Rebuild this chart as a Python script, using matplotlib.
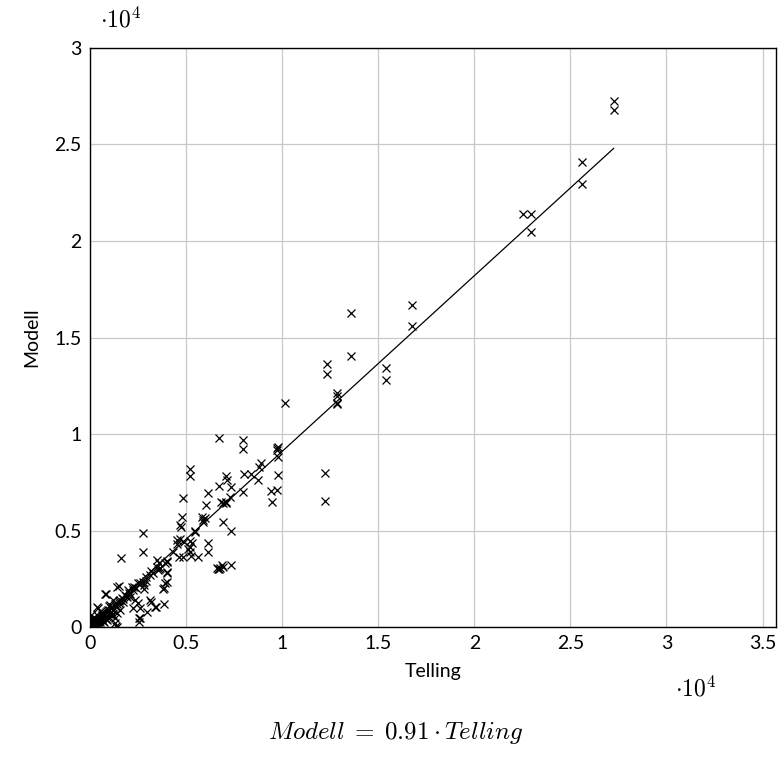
import matplotlib.pyplot as plt
from matplotlib.ticker import FuncFormatter

# Telling (x) and Modell (y)
telling = [27250, 27250, 25580, 25580, 22520, 22930, 22930,
           16740, 16740, 13570, 13570, 12320, 12320, 15390, 15390,
           12840, 12840, 12840, 12840, 10140, 12220, 12220,
           9780, 9720, 9720, 9780, 8890, 8790, 9780, 8370, 8010, 8740, 7960, 9410, 9720, 9460,
           6710, 7960, 7960, 5200, 5200, 7070, 7120, 6710, 7330, 7280, 6810, 7070, 6140, 6030,
           4840, 4780, 4730, 4680,
           5820, 5880, 5980, 6920, 7330, 5460,
           4520, 4520, 5200, 5300, 5100, 4840, 5200, 5250, 5620, 6140, 6140, 4630,
           6760, 6600, 6860, 7330, 6700, 6650, 6900,
           2760, 2760, 1610,
           4000, 3900, 3480, 3590, 3540, 4000, 3900, 4000, 3800, 3850, 3850, 3380, 3170,
           2810, 2810, 2760, 2180, 2240, 1510, 780, 2080, 2340, 2500, 2600, 2240, 2960,
           3120, 3430, 2550, 2550, 1350, 1510, 1720, 1920, 2030, 1200, 1040, 1200, 1400,
           1560, 1150, 420, 620, 160, 780, 1350, 1300, 1080,
           3640, 4000, 4000, 4680, 4880, 5200, 5460, 5880, 6920, 7070, 3600, 4300, 3200,
           2900, 2500, 2300, 1800, 1650, 1500, 1300, 1100, 950, 850, 700, 600, 500, 400,
           300, 200, 100,
           50, 100, 150, 20, 30, 80, 250, 300, 200, 120, 60, 400, 350, 450, 500, 550, 600,
           650, 700, 750, 800, 900, 1000, 0, 10, 40, 70, 150, 180, 220, 280, 320, 380, 420,
           480, 520, 600, 650, 700, 750, 820, 880, 950, 1000, 1100, 1200, 900, 1300, 180,
           250, 350, 50, 100, 1400, 1200, 1000, 1550, 1700, 1850, 2000, 2100, 2400, 2600,
           2900, 3100, 3300, 3500,
           1400, 830, 2600, 1400, 360]
modell = [27250, 26790, 24090, 22950, 21400, 21400, 20470,
          16680, 15600, 16270, 14040, 13630, 13110, 13420, 12800,
          12120, 11970, 11610, 11550, 11610, 7980, 6530,
          9330, 9270, 9170, 8810, 8500, 8290, 7880, 7930, 7930, 7620, 7000, 7050, 7100, 6480,
          9790, 9690, 9220, 8190, 7820, 7820, 7620, 7310, 7250, 6740, 6480, 6420, 6940, 6320,
          6680, 5700, 5180, 5280,
          5700, 5440, 5650, 5440, 4970, 4970,
          4510, 4300, 4460, 4350, 4040, 3630, 3890, 3680, 3630, 4350, 3890, 3630,
          3060, 3060, 3210, 3210, 3000, 2990, 3100,
          4870, 3890, 3570,
          2800, 3320, 3460, 3000, 2950, 2850, 2280, 2330, 1970, 2000, 1190, 1040, 1300,
          1970, 2180, 2330, 2070, 1920, 2120, 1710, 1550, 1400, 1240, 980, 980, 780,
          1400, 1040, 470, 260, 1040, 1240, 1450, 1550, 1760, 1400, 1140, 880, 730,
          880, 620, 980, 730, 470, 470, 50, 210, 620,
          3060, 3370, 3420, 4560, 4400, 4150, 4920, 5540, 6420, 6480, 3300, 3900, 2900,
          2600, 2300, 2100, 1650, 1500, 1350, 1200, 1000, 860, 780, 650, 550, 450, 380,
          280, 180, 90,
          50, 30, 120, 10, 200, 150, 150, 100, 60, 220, 300, 250, 300, 350, 420, 500, 480,
          600, 640, 700, 720, 820, 900, 0, 40, 20, 80, 50, 20, 280, 240, 150, 120, 200,
          300, 250, 350, 400, 300, 250, 400, 350, 550, 700, 800, 600, 500, 450, 350,
          450, 600, 600, 400, 1200, 1050, 1100, 1400, 1300, 1600, 1900, 1700, 2000, 2300,
          2400, 2700, 2800, 3100,
          2070, 1710, 470, 0, 1040]

slope = 0.91
fit_x = [0, 27250]

plt.rcParams['mathtext.fontset'] = 'cm'

fig = plt.figure(figsize=(7.82, 7.63), dpi=100)
ax = fig.add_axes([0.1151, 0.1782, 0.8772, 0.7589])

ax.plot(telling, modell, 'x', color='black', markersize=5.5, markeredgewidth=0.9)
ax.plot(fit_x, [slope * v for v in fit_x], color='black', linewidth=0.9)

ax.set_xlim(0, 35700)
ax.set_ylim(0, 30000)
ax.set_xticks([i * 5000 for i in range(8)])
ax.set_yticks([i * 5000 for i in range(7)])
fmt = FuncFormatter(lambda v, p: '0' if v == 0 else ('%g' % (v / 1e4)))
ax.xaxis.set_major_formatter(fmt)
ax.yaxis.set_major_formatter(fmt)
ax.grid(True, color='#c8c8c8', linewidth=0.9)
ax.set_axisbelow(True)
ax.tick_params(direction='in', length=0, labelsize=14, pad=6)
for lab in ax.get_xticklabels() + ax.get_yticklabels():
    lab.set_family('Lato')
for s in ax.spines.values():
    s.set_linewidth(1.0)

ax.set_xlabel('Telling', fontsize=14, family='Lato', labelpad=8)
ax.set_ylabel('Modell', fontsize=14, family='Lato', labelpad=10)

fig.text(121 / 782, 1 - 20 / 763, r'$\cdot 10^4$', fontsize=17, ha='center', va='center')
fig.text(696 / 782, 1 - 689 / 763, r'$\cdot 10^4$', fontsize=17, ha='center', va='center')
fig.text(396 / 782, 1 - 733 / 763, r'$Modell\;=\;0.91 \cdot Telling$', fontsize=18,
         ha='center', va='center')

fig.savefig('out.png', dpi=100)
